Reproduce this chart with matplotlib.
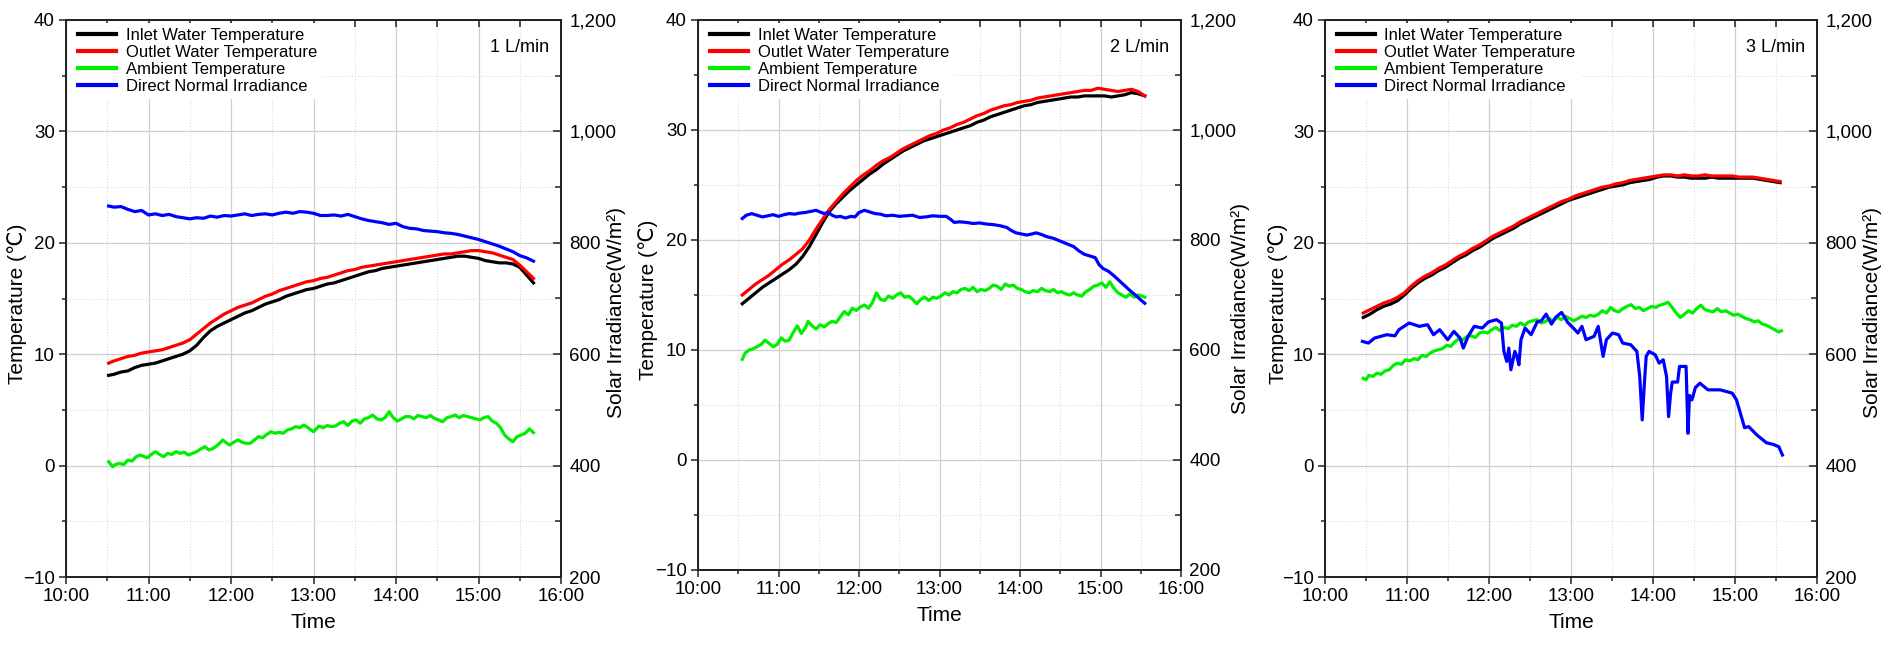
import numpy as np
import matplotlib
matplotlib.use('Agg')
import matplotlib.pyplot as plt
from matplotlib.ticker import MultipleLocator, FuncFormatter

plt.rcParams['font.family'] = ['Liberation Sans', 'DejaVu Sans']

# ---------------- data (time = minutes after 10:00) ----------------
# 1 L/min
p1_t_water = [31, 35, 40, 45, 50, 55, 60, 65, 70, 75, 80, 85, 90, 95, 100, 105, 110, 115, 120, 125,
              130, 135, 140, 145, 150, 155, 160, 165, 170, 175, 180, 185, 190, 195, 200, 205, 210, 215,
              220, 225, 230, 235, 240, 245, 250, 255, 260, 265, 270, 275, 280, 285, 290, 295, 300, 305,
              310, 315, 320, 325, 330, 335, 340]
p1_inlet = [8.1, 8.2, 8.4, 8.5, 8.8, 9.0, 9.1, 9.2, 9.4, 9.6, 9.8, 10.0, 10.3, 10.8, 11.5, 12.1, 12.5,
            12.8, 13.1, 13.4, 13.7, 13.9, 14.2, 14.5, 14.7, 14.9, 15.2, 15.4, 15.6, 15.8, 15.9, 16.1,
            16.3, 16.4, 16.6, 16.8, 17.0, 17.2, 17.4, 17.5, 17.7, 17.8, 17.9, 18.0, 18.1, 18.2, 18.3,
            18.4, 18.5, 18.6, 18.7, 18.8, 18.8, 18.7, 18.6, 18.4, 18.3, 18.2, 18.2, 18.1, 17.8, 17.1, 16.4]
p1_outlet = [9.2, 9.4, 9.6, 9.8, 9.9, 10.1, 10.2, 10.3, 10.4, 10.6, 10.8, 11.0, 11.3, 11.8, 12.3, 12.8,
             13.2, 13.6, 13.9, 14.2, 14.4, 14.6, 14.9, 15.2, 15.4, 15.7, 15.9, 16.1, 16.3, 16.5, 16.6,
             16.8, 16.9, 17.1, 17.3, 17.5, 17.6, 17.8, 17.9, 18.0, 18.1, 18.2, 18.3, 18.4, 18.5, 18.6,
             18.7, 18.8, 18.9, 19.0, 19.0, 19.1, 19.2, 19.3, 19.3, 19.2, 19.1, 18.9, 18.7, 18.5, 18.0,
             17.4, 16.8]
p1_t_amb = [31, 34, 36, 39, 42, 45, 48, 51, 54, 57, 59, 62, 65, 68, 71, 74, 77, 80, 83, 86, 89, 92, 95,
            98, 101, 104, 107, 110, 114, 117, 119, 122, 125, 128, 131, 134, 137, 140, 143, 146, 149,
            152, 155, 158, 161, 164, 167, 170, 173, 176, 180, 184, 187, 190, 193, 196, 199, 202, 205,
            208, 211, 214, 217, 220, 223, 226, 229, 232, 235, 238, 241, 244, 247, 250, 253, 256, 259,
            262, 265, 268, 271, 274, 277, 280, 283, 286, 289, 292, 295, 298, 301, 304, 307, 310, 313,
            316, 319, 322, 325, 328, 331, 334, 337, 340]
p1_amb = [0.35, -0.1, 0.1, 0.2, 0.1, 0.5, 0.4, 0.8, 0.95, 0.8, 0.7, 1.0, 1.25, 1.0, 0.8, 1.1, 1.0, 1.25,
          1.1, 1.2, 0.95, 1.1, 1.25, 1.5, 1.7, 1.4, 1.55, 1.8, 2.3, 2.0, 1.85, 2.1, 2.3, 2.1, 2.0, 2.0,
          2.3, 2.6, 2.5, 2.8, 3.04, 2.9, 3.0, 2.9, 3.2, 3.3, 3.5, 3.4, 3.64, 3.4, 3.04, 3.55, 3.4, 3.6,
          3.5, 3.55, 3.8, 3.94, 3.6, 4.0, 4.1, 3.8, 4.2, 4.3, 4.54, 4.2, 4.1, 4.3, 4.84, 4.3, 4.0, 4.2,
          4.4, 4.4, 4.2, 4.5, 4.4, 4.3, 4.5, 4.24, 4.1, 3.94, 4.3, 4.4, 4.54, 4.3, 4.5, 4.4, 4.3, 4.2,
          4.1, 4.3, 4.4, 4.0, 3.8, 3.4, 2.75, 2.4, 2.14, 2.6, 2.75, 2.9, 3.3, 2.95]
p1_t_dni = [31, 35, 40, 45, 50, 55, 60, 65, 70, 75, 80, 85, 90, 95, 100, 105, 110, 115, 120, 125, 130,
            135, 140, 145, 150, 155, 160, 165, 170, 175, 180, 185, 190, 195, 200, 205, 210, 215, 220,
            225, 230, 235, 240, 245, 250, 255, 260, 265, 270, 275, 280, 285, 290, 295, 300, 305, 310,
            315, 320, 325, 330, 335, 340]
p1_dni = [866, 864, 865, 860, 856, 858, 850, 852, 849, 851, 847, 845, 843, 845, 844, 848, 846, 849, 848,
          850, 852, 849, 851, 852, 850, 853, 855, 853, 856, 855, 853, 849, 849, 850, 848, 851, 847, 843,
          840, 838, 836, 833, 835, 829, 826, 825, 822, 821, 820, 818, 817, 815, 812, 809, 806, 802, 798,
          794, 789, 784, 777, 773, 767]

# 2 L/min
p2_t_water = [33, 38, 43, 48, 53, 58, 63, 68, 73, 78, 83, 88, 93, 98, 103, 108, 113, 118, 123, 128, 133,
              138, 143, 148, 153, 158, 163, 168, 173, 178, 183, 188, 193, 198, 203, 208, 213, 218, 223,
              228, 233, 238, 243, 248, 253, 258, 263, 268, 273, 278, 283, 288, 293, 298, 303, 308, 313,
              318, 323, 328, 333]
p2_inlet = [14.2, 14.7, 15.2, 15.7, 16.1, 16.5, 16.9, 17.3, 17.8, 18.5, 19.4, 20.5, 21.6, 22.6, 23.3,
            23.9, 24.5, 25.0, 25.5, 26.0, 26.4, 26.9, 27.3, 27.7, 28.1, 28.4, 28.7, 29.0, 29.2, 29.4,
            29.6, 29.8, 30.0, 30.2, 30.4, 30.7, 30.9, 31.2, 31.4, 31.6, 31.8, 32.0, 32.2, 32.3, 32.5,
            32.6, 32.7, 32.8, 32.9, 33.0, 33.0, 33.1, 33.1, 33.1, 33.1, 33.0, 33.1, 33.2, 33.4, 33.3, 33.1]
p2_outlet = [15.0, 15.5, 16.0, 16.4, 16.8, 17.3, 17.8, 18.2, 18.7, 19.2, 20.0, 21.0, 21.9, 22.8, 23.5,
             24.2, 24.8, 25.4, 25.9, 26.3, 26.8, 27.2, 27.5, 27.9, 28.3, 28.6, 28.9, 29.2, 29.5, 29.7,
             30.0, 30.2, 30.5, 30.7, 31.0, 31.3, 31.5, 31.8, 32.0, 32.2, 32.3, 32.5, 32.6, 32.7, 32.9,
             33.0, 33.1, 33.2, 33.3, 33.4, 33.5, 33.6, 33.6, 33.8, 33.7, 33.6, 33.5, 33.6, 33.7, 33.5, 33.1]
p2_t_amb = [33, 35, 38, 41, 44, 47, 50, 53, 56, 59, 62, 65, 68, 71, 74, 77, 80, 82, 85, 88, 91, 94, 97,
            100, 103, 106, 109, 112, 115, 118, 121, 124, 127, 130, 133, 136, 139, 142, 145, 148, 151,
            154, 157, 160, 163, 166, 169, 172, 175, 178, 181, 184, 187, 190, 193, 196, 199, 202, 205,
            208, 211, 214, 217, 220, 223, 226, 229, 232, 235, 238, 241, 244, 247, 250, 253, 256, 259,
            262, 265, 268, 271, 274, 277, 280, 283, 286, 289, 292, 295, 298, 301, 304, 307, 310, 313,
            316, 319, 322, 325, 328, 331, 333]
p2_amb = [9.15, 9.7, 10.0, 10.1, 10.3, 10.5, 10.9, 10.6, 10.3, 10.5, 11.1, 10.8, 10.9, 11.6, 12.2, 11.5,
          12.0, 12.6, 12.2, 11.9, 12.3, 12.1, 12.4, 12.6, 12.5, 13.0, 13.5, 13.2, 13.8, 13.6, 13.9, 14.1,
          13.8, 14.3, 15.2, 14.6, 14.5, 14.9, 14.7, 15.0, 15.2, 14.8, 14.9, 14.6, 14.2, 14.6, 14.8, 14.5,
          14.8, 14.7, 14.9, 15.2, 15.0, 15.3, 15.2, 15.5, 15.6, 15.4, 15.7, 15.3, 15.5, 15.4, 15.6, 15.9,
          15.8, 15.5, 16.0, 15.8, 15.9, 15.6, 15.5, 15.3, 15.2, 15.4, 15.3, 15.6, 15.4, 15.3, 15.5, 15.2,
          15.3, 15.1, 15.0, 15.2, 15.0, 14.9, 15.3, 15.5, 15.8, 15.9, 16.1, 15.7, 16.2, 15.6, 15.2, 15.0,
          14.8, 15.1, 14.8, 15.0, 14.9, 14.8]
p2_t_dni = [33, 36, 40, 44, 48, 52, 56, 60, 64, 68, 72, 76, 80, 84, 88, 91, 94, 97, 100, 103, 106, 110,
            114, 117, 120, 124, 128, 132, 136, 140, 145, 150, 155, 160, 165, 170, 175, 180, 185, 188,
            191, 195, 200, 205, 210, 215, 220, 225, 230, 233, 237, 241, 245, 249, 252, 256, 260, 265,
            270, 275, 280, 284, 288, 292, 296, 299, 302, 306, 310, 314, 318, 322, 326, 330, 333]
p2_dni = [839, 845, 848, 845, 842, 844, 846, 843, 846, 848, 847, 849, 850, 852, 854, 851, 848, 850, 845,
          842, 843, 840, 843, 842, 850, 854, 851, 848, 847, 844, 845, 843, 844, 845, 841, 842, 844, 843,
          843, 838, 832, 833, 832, 830, 831, 829, 828, 826, 823, 818, 813, 811, 809, 811, 813, 810, 806,
          803, 798, 793, 788, 780, 774, 771, 768, 755, 748, 743, 735, 726, 717, 708, 700, 691, 685]

# 3 L/min
p3_t_water = [28, 33, 38, 43, 48, 53, 58, 63, 68, 73, 78, 83, 88, 93, 98, 103, 108, 113, 118, 123, 128,
              133, 138, 143, 148, 153, 158, 163, 168, 173, 178, 183, 188, 193, 198, 203, 208, 213, 218,
              223, 228, 233, 238, 243, 248, 253, 258, 263, 268, 273, 278, 283, 288, 293, 298, 303, 308,
              313, 318, 323, 328, 333]
p3_inlet = [13.3, 13.6, 14.0, 14.3, 14.5, 14.8, 15.3, 15.9, 16.4, 16.8, 17.1, 17.5, 17.8, 18.2, 18.6,
            18.9, 19.3, 19.6, 20.0, 20.4, 20.7, 21.0, 21.3, 21.7, 22.0, 22.3, 22.6, 22.9, 23.2, 23.5,
            23.8, 24.0, 24.2, 24.4, 24.6, 24.8, 25.0, 25.1, 25.2, 25.4, 25.5, 25.6, 25.7, 25.9, 26.0,
            26.0, 25.9, 25.9, 25.8, 25.8, 25.8, 25.9, 25.8, 25.8, 25.8, 25.8, 25.8, 25.8, 25.7, 25.6,
            25.5, 25.4]
p3_outlet = [13.7, 14.0, 14.3, 14.6, 14.8, 15.1, 15.5, 16.1, 16.6, 17.0, 17.3, 17.7, 18.0, 18.4, 18.8,
             19.1, 19.5, 19.8, 20.2, 20.6, 20.9, 21.2, 21.5, 21.9, 22.2, 22.5, 22.8, 23.1, 23.4, 23.7,
             23.9, 24.2, 24.4, 24.6, 24.8, 25.0, 25.1, 25.3, 25.4, 25.6, 25.7, 25.8, 25.9, 26.0, 26.1,
             26.1, 26.0, 26.1, 26.0, 26.0, 26.1, 26.0, 26.0, 26.0, 26.0, 25.9, 25.9, 25.9, 25.8, 25.7,
             25.6, 25.5]
p3_t_amb = [28, 30, 32, 35, 38, 41, 44, 47, 50, 53, 56, 59, 62, 65, 68, 71, 74, 77, 80, 83, 86, 89, 92,
            95, 98, 101, 104, 107, 110, 113, 116, 119, 122, 125, 128, 131, 134, 137, 140, 143, 146, 149,
            152, 155, 158, 161, 164, 167, 170, 173, 176, 179, 182, 185, 188, 191, 194, 197, 200, 203,
            206, 209, 212, 215, 218, 221, 224, 227, 230, 233, 236, 239, 242, 245, 248, 251, 254, 257,
            260, 263, 266, 269, 272, 275, 278, 281, 284, 287, 290, 293, 296, 299, 302, 305, 308, 311,
            314, 317, 320, 323, 326, 329, 332, 334]
p3_amb = [7.84, 7.7, 8.1, 8.0, 8.3, 8.2, 8.5, 8.6, 9.0, 9.2, 9.1, 9.5, 9.4, 9.6, 9.5, 9.9, 9.8, 10.1,
          10.3, 10.4, 10.5, 10.8, 10.7, 11.1, 11.4, 11.3, 11.6, 11.65, 11.5, 11.9, 12.0, 11.9, 12.2,
          12.4, 12.1, 12.4, 12.3, 12.6, 12.5, 12.8, 12.6, 12.9, 13.0, 13.1, 12.8, 12.9, 13.2, 13.0,
          13.3, 13.1, 13.4, 13.2, 13.0, 13.2, 13.4, 13.3, 13.5, 13.4, 13.6, 13.9, 13.7, 14.2, 13.9,
          13.8, 14.1, 14.3, 14.45, 14.1, 14.2, 13.9, 14.1, 14.3, 14.2, 14.4, 14.5, 14.66, 14.2, 13.7,
          13.3, 13.6, 13.9, 13.7, 14.1, 14.4, 14.0, 13.9, 13.8, 14.1, 13.8, 13.9, 13.7, 13.5, 13.6,
          13.4, 13.2, 13.1, 12.9, 13.0, 12.7, 12.6, 12.4, 12.2, 12.0, 12.1]
p3_t_dni = [27.4, 31.8, 36.3, 45.2, 51.2, 54.1, 61.6, 69.0, 75.0, 79.4, 83.9, 89.8, 94.3, 98.8, 101.2,
            104.7, 109.2, 115.1, 119.6, 125.5, 129.1, 130.9, 133.0, 134.5, 136.0, 138.9, 140.4, 141.9,
            143.4, 146.4, 150.8, 155.3, 158.3, 161.8, 165.7, 168.7, 173.1, 177.6, 182.1, 185.0, 188.0,
            191.0, 196.9, 199.9, 203.5, 205.9, 210.3, 214.8, 217.8, 223.7, 228.2, 230.3, 232.1, 233.5,
            235.0, 237.1, 241.6, 244.5, 247.5, 249.9, 251.4, 252.9, 254.1, 258.0, 259.4, 264.2, 265.6,
            266.7, 268.5, 271.0, 274.3, 280.2, 289.2, 295.1, 298.0, 301.1, 307.0, 310.0, 316.0, 323.0,
            328.0, 332.0, 334.7]
p3_dni = [623, 620, 629, 635, 633, 644, 656, 650, 653, 635, 644, 626, 641, 629, 611, 632, 650, 647, 658,
          662, 656, 605, 587, 611, 572, 605, 596, 581, 626, 647, 635, 658, 660, 672, 654, 666, 675, 657,
          646, 638, 650, 626, 632, 650, 596, 626, 638, 635, 620, 617, 605, 560, 482, 540, 596, 605, 599,
          584, 590, 560, 488, 530, 550, 550, 578, 578, 458, 526, 518, 540, 548, 536, 536, 532, 530, 518,
          468, 470, 455, 441, 438, 434, 419]

flow_labels = ['1 L/min', '2 L/min', '3 L/min']
series_labels = ['Inlet Water Temperature', 'Outlet Water Temperature',
                 'Ambient Temperature', 'Direct Normal Irradiance']

# ---------------- layout (pixels) ----------------
W, H = 1891, 652
fig = plt.figure(figsize=(W / 100, H / 100), dpi=100)

# left, right, top, bottom of each plot box
boxes = [(66, 561, 20, 577), (698, 1181, 20, 570), (1325, 1817, 20, 577)]
label_x = [(17, 616), (648, 1240), (1278, 1873)]

panels = [
    (p1_t_water, p1_inlet, p1_outlet, p1_t_amb, p1_amb, p1_t_dni, p1_dni),
    (p2_t_water, p2_inlet, p2_outlet, p2_t_amb, p2_amb, p2_t_dni, p2_dni),
    (p3_t_water, p3_inlet, p3_outlet, p3_t_amb, p3_amb, p3_t_dni, p3_dni),
]

LW = 2.3
SPINE = '#222222'


def hours(minutes):
    return 10 + np.asarray(minutes, dtype=float) / 60.0


for i, (data, box, flow, (lx, rx)) in enumerate(zip(panels, boxes, flow_labels, label_x)):
    t_w, inlet, outlet, t_a, amb, t_d, dni = data
    l, r, t, b = box
    ax = fig.add_axes([l / W, 1 - b / H, (r - l) / W, (b - t) / H])
    ax2 = ax.twinx()

    h1, = ax.plot(hours(t_w), inlet, color='black', lw=LW, label=series_labels[0])
    h2, = ax.plot(hours(t_w), outlet, color='#ff0000', lw=LW, label=series_labels[1])
    h3, = ax.plot(hours(t_a), amb, color='#00ee00', lw=LW, label=series_labels[2])
    h4, = ax2.plot(hours(t_d), dni, color='#0000ff', lw=LW, label=series_labels[3])

    ax.set_xlim(10, 16)
    ax.set_ylim(-10, 40)
    ax2.set_ylim(200, 1200)

    ax.xaxis.set_major_locator(MultipleLocator(1))
    ax.xaxis.set_minor_locator(MultipleLocator(0.5))
    ax.xaxis.set_major_formatter(FuncFormatter(lambda v, p: f"{int(round(v))}:00"))
    ax.yaxis.set_major_locator(MultipleLocator(10))
    ax.yaxis.set_minor_locator(MultipleLocator(5))
    ax2.yaxis.set_major_locator(MultipleLocator(200))
    ax2.yaxis.set_minor_locator(MultipleLocator(100))
    ax2.yaxis.set_major_formatter(FuncFormatter(lambda v, p: f"{int(v):,}"))

    ax.grid(True, which='major', color='#cfcfcf', lw=0.9)
    ax.grid(True, which='minor', color='#dcdcdc', lw=0.8, ls=':')

    # left / bottom ticks outward
    ax.tick_params(axis='both', which='both', direction='out', labelsize=13.5,
                   top=False, right=False, color=SPINE, width=1.1, pad=3)
    ax.tick_params(which='major', length=5)
    ax.tick_params(which='minor', length=3)
    # right / top ticks inward
    ax2.tick_params(axis='y', which='both', direction='in', labelsize=13.5,
                    color=SPINE, width=1.1, pad=6)
    ax2.tick_params(axis='y', which='major', length=6)
    ax2.tick_params(axis='y', which='minor', length=4)
    ax2.xaxis.set_visible(True)
    ax2.tick_params(axis='x', which='both', direction='in', top=True, bottom=False,
                    labeltop=False, labelbottom=False, length=5, color=SPINE, width=1.1)

    for a in (ax, ax2):
        for s in a.spines.values():
            s.set_linewidth(1.3)
            s.set_color(SPINE)

    ax.set_xlabel('Time', fontsize=15, labelpad=6)

    cy = 1 - ((t + b) / 2 + 5) / H
    fig.text(lx / W, cy, 'Temperature (℃)', rotation=90, ha='center', va='center', fontsize=15)
    fig.text(rx / W, 1 - ((t + b) / 2 + 14) / H, 'Solar Irradiance(W/m²)', rotation=90,
             ha='center', va='center', fontsize=15)

    fig.text((r - 12) / W, 1 - 48 / H, flow, ha='right', va='center', fontsize=13)

    leg = ax2.legend([h1, h2, h3, h4], series_labels, loc='upper left',
                     bbox_to_anchor=((l + 7) / W, 1 - (t + 3) / H), bbox_transform=fig.transFigure,
                     fontsize=12, handlelength=2.3, handletextpad=0.55, labelspacing=0.12,
                     borderpad=0.3, borderaxespad=0, frameon=True, fancybox=False)
    leg.get_frame().set_facecolor('white')
    leg.get_frame().set_edgecolor('none')
    leg.get_frame().set_alpha(1)
    for ln in leg.get_lines():
        ln.set_linewidth(3)

fig.savefig('out.png', dpi=100)
